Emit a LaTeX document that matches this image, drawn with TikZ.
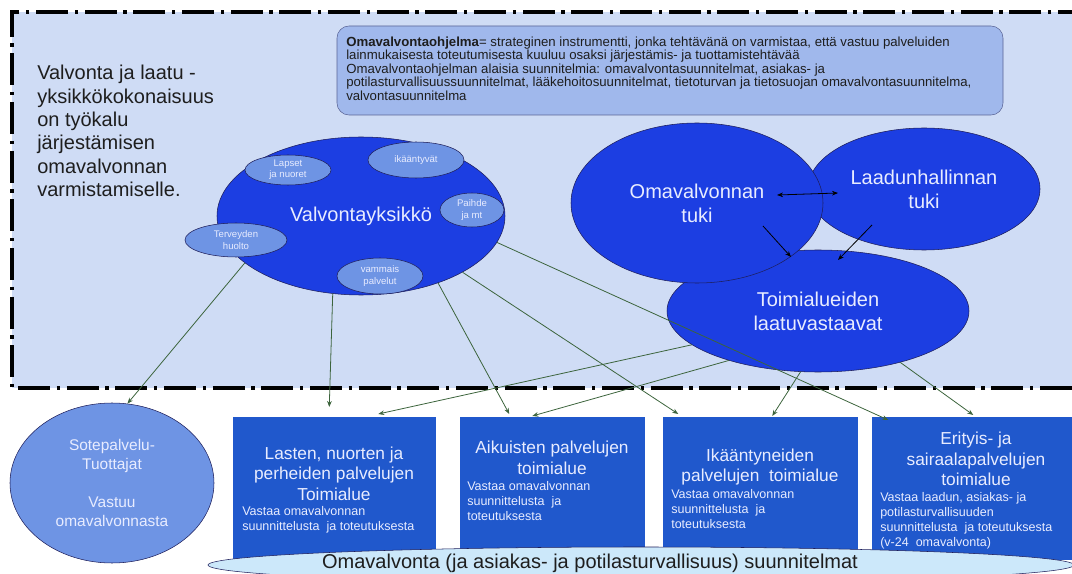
\documentclass[tikz,border=0pt]{standalone}
\usepackage{fontspec}
\setmainfont{Liberation Sans}
\usepackage{tikz}
\tikzset{every picture/.style={x=0.75pt,y=-0.75pt}}
\usetikzlibrary{shapes.geometric,arrows.meta,calc}

\definecolor{panel}{RGB}{207,220,245}
\definecolor{note}{RGB}{160,184,236}
\definecolor{frame}{RGB}{90,100,150}
\definecolor{vivid}{RGB}{28,62,226}
\definecolor{navy}{RGB}{30,30,90}
\definecolor{lightoval}{RGB}{110,148,228}
\definecolor{boxblue}{RGB}{32,88,204}
\definecolor{plan}{RGB}{204,232,250}
\definecolor{leaf}{RGB}{60,100,60}
\definecolor{paper}{RGB}{232,236,255}
\definecolor{ink}{RGB}{30,30,30}

\tikzset{
  bigoval/.style={ellipse, draw=navy, fill=vivid, text=paper, inner sep=0pt, align=center, font=\fontsize{15}{18}\selectfont},
  smalloval/.style={ellipse, draw=navy, fill=lightoval, text=paper, inner sep=0pt, align=center, font=\fontsize{7.2}{8.5}\selectfont},
  areabox/.style={rectangle, fill=boxblue, anchor=north west, inner sep=0pt},
  boxtitle/.style={text=paper, align=center, inner sep=0pt, font=\fontsize{13}{15.4}\selectfont},
  boxnote/.style={text=paper, align=left, anchor=west, inner sep=0pt, font=\fontsize{9.4}{11.25}\selectfont},
  feed/.style={->, leaf, line width=0.6pt},
  link/.style={black, line width=0.6pt}
}

\begin{document}
\begin{tikzpicture}[>={Stealth[length=4.5pt,width=3.5pt]}]
    \useasboundingbox (0,0) rectangle (1072,574);
    % upper panel
    \fill[panel] (12,12) rectangle (1090,388);
    \draw[line width=2.4pt, dash pattern=on 24pt off 5pt on 2.5pt off 5pt] (1090,12) -- (12,12) -- (12,388) -- (1090,388);

    \node[anchor=west, align=left, inner sep=0pt, text=ink, font=\fontsize{15}{17.5}\selectfont] (intro) at (37,131)
      {Valvonta ja laatu -\\yksikkökokonaisuus\\on työkalu\\järjestämisen\\omavalvonnan\\varmistamiselle.};

    \node[draw=frame, fill=note, rounded corners=9pt, minimum width=499.5pt, minimum height=66.75pt] (ohjelma) at (670,70.5) {};
    \node[anchor=west, align=left, inner sep=0pt, text=ink, font=\fontsize{9.9}{10.1}\selectfont] (ohjelmat) at (346,68.5)
      {\textbf{Omavalvontaohjelma}= strateginen instrumentti, jonka tehtävänä on varmistaa, että vastuu palveluiden\\
       lainmukaisesta toteutumisesta kuuluu osaksi järjestämis- ja tuottamistehtävää\\
       Omavalvontaohjelman alaisia suunnitelmia: omavalvontasuunnitelmat, asiakas- ja\\
       potilasturvallisuussuunnitelmat, lääkehoitosuunnitelmat, tietoturvan ja tietosuojan omavalvontasuunnitelma,\\
       valvontasuunnitelma};

    % valvontayksikko
    \node[bigoval, minimum width=216pt, minimum height=118.5pt] (vy) at (361,216) {Valvontayksikkö};
    \node[smalloval, minimum width=64.5pt, minimum height=22.5pt] (lapset) at (288,170) {Lapset\\ja nuoret};
    \node[smalloval, minimum width=72pt, minimum height=27pt] (ikaan) at (416,160) {ikääntyvät};
    \node[smalloval, minimum width=48pt, minimum height=25.5pt] (paihde) at (472,210) {Paihde\\ja mt};
    \node[smalloval, minimum width=76.5pt, minimum height=25.5pt] (terveys) at (236,240) {Terveyden\\huolto};
    \node[smalloval, minimum width=64.5pt, minimum height=27pt] (vammais) at (380,276) {vammais\\palvelut};

    % tuki
    \node[bigoval, minimum width=174pt, minimum height=91.5pt] (laadun) at (924,189) {Laadunhallinnan\\tuki};
    \node[bigoval, minimum width=226.5pt, minimum height=91.5pt] (vastaavat) at (818,311) {Toimialueiden\\laatuvastaavat};
    \node[bigoval, minimum width=189pt, minimum height=120pt] (oma) at (697,203) {Omavalvonnan\\tuki};
    \draw[link, <->] ($(oma)+(80,-8)$) -- ($(laadun)+(-86,4)$);
    \draw[link, ->] ($(oma)+(66,23)$) -- ($(vastaavat)+(-27,-54)$);
    \draw[link, ->] ($(laadun)+(-52,36)$) -- ($(vastaavat)+(20,-51)$);

    % toimialueet
    \node[areabox, minimum width=152.25pt, minimum height=107.25pt] (lasten) at (233,417) {};
    \node[areabox, minimum width=138.75pt, minimum height=107.25pt] (aikuis) at (460,417) {};
    \node[areabox, minimum width=146.25pt, minimum height=107.25pt] (ikaant) at (663,417) {};
    \node[areabox, minimum width=156pt, minimum height=107.25pt] (erityis) at (872,417) {};

    \node[boxtitle] (lastent) at (334,473.5) {Lasten, nuorten ja\\perheiden palvelujen\\Toimialue};
    \node[boxnote] (lastenv) at (242,519.5) {Vastaa omavalvonnan\\suunnittelusta\ \ ja toteutuksesta};
    \node[boxtitle] (aikuist) at (552,458) {Aikuisten palvelujen\\toimialue};
    \node[boxnote] (aikuisv) at (467,501) {Vastaa omavalvonnan\\suunnittelusta\ \ ja\\toteutuksesta};
    \node[boxtitle] (ikaantt) at (760,467) {Ikääntyneiden\\palvelujen\ \ toimialue};
    \node[boxnote] (ikaantv) at (671,509) {Vastaa omavalvonnan\\suunnittelusta\ \ ja\\toteutuksesta};
    \node[boxtitle] (erityist) at (976,459) {Erityis- ja\\sairaalapalvelujen\\toimialue};
    \node[boxnote] (erityisv) at (880,521) {Vastaa laadun, asiakas- ja\\potilasturvallisuuden\\suunnittelusta\ \ ja toteutuksesta\\(v-24\ \ omavalvonta)};

    \node[ellipse, draw=navy, fill=lightoval, minimum width=153pt, minimum height=120pt, inner sep=0pt, text=paper,
          align=center, font=\fontsize{11.6}{14.25}\selectfont] (sote) at (112,483)
      {Sotepalvelu-\\Tuottajat\\[14.25pt]Vastuu\\omavalvonnasta};

    % connectors
    \draw[feed] (vy.202) -- (sote.79);
    \draw[feed] (vy.250) -- ($(lasten.north)+(-5.5,-10)$);
    \draw[feed] (vy.-41) -- ($(aikuis.north)+(-43.5,-3)$);
    \draw[feed] (vy.-29) -- ($(ikaant.north)+(-82.5,-3)$);
    \draw[feed] (vy.-11) -- ($(erityis.north)+(-88,3)$);
    \draw[feed] (vastaavat.195) -- ($(lasten.north)+(43.5,-3)$);
    \draw[feed] (vastaavat.209) -- ($(aikuis.north)+(-20.5,-1)$);
    \draw[feed] (vastaavat.254) -- ($(ikaant.north)+(11.5,-1)$);
    \draw[feed] (vastaavat.-32) -- ($(erityis.north)+(-3,-2)$);

    \node[ellipse, draw=navy, fill=plan, minimum width=649.5pt, minimum height=27pt, inner sep=0pt] (suunn) at (641,565) {};
    \node[inner sep=0pt, text=ink, font=\fontsize{15}{18}\selectfont] (suunnt) at (590,563)
      {Omavalvonta (ja asiakas- ja potilasturvallisuus) suunnitelmat};
\end{tikzpicture}
\end{document}
